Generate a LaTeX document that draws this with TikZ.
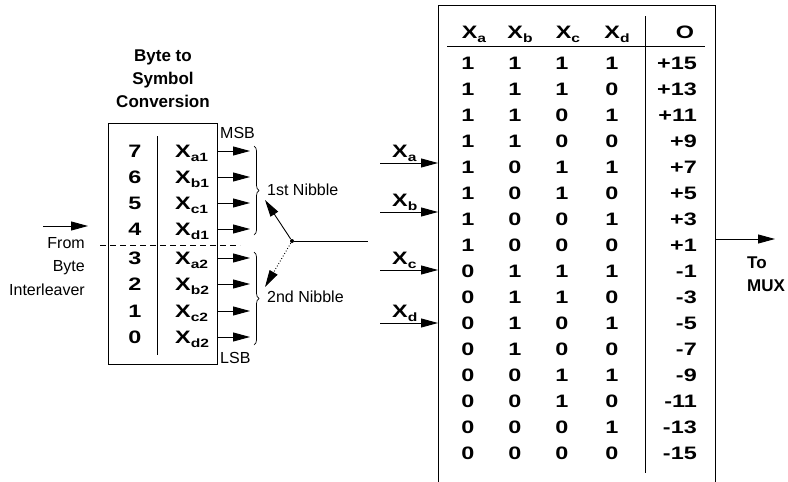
\documentclass[tikz,border=0pt]{standalone}
\usepackage{fontspec}
\setmainfont{Liberation Sans}
\newfontfamily\widefont{Liberation Sans Bold}[FakeStretch=1.3]
\usetikzlibrary{arrows.meta,decorations.pathreplacing}

\tikzset{
  sigarrow/.style={-{Triangle[length=17pt,width=9pt]}},
  bitlabel/.style={inner sep=0.75pt,font=\fontsize{18}{18}\widefont\selectfont},
  plainlabel/.style={inner sep=0.75pt,font=\fontsize{16}{23.5}\selectfont},
  boldlabel/.style={inner sep=0.75pt,font=\bfseries\fontsize{17}{23}\selectfont},
}
\newcommand\lowidx[1]{\raisebox{-4.5pt}{\fontsize{12}{12}\selectfont #1}}

\begin{document}
\begin{tikzpicture}[x=1pt,y=1pt,yscale=-1,xscale=1,line width=0.9pt]
    \useasboundingbox (0,0) rectangle (788,482);

    % Text Node
    \node [boldlabel, align=center] (title) at (163,79) {Byte to\\Symbol\\Conversion};

    %Shape: Rectangle
    \node [draw, minimum width=109, minimum height=241, inner sep=0pt] (conv) at (162.5,243.5) {};
    %Straight Lines
    \draw (157,136) -- (157,355) ;
    \draw [dash pattern={on 6pt off 4pt}] (100,245) -- (240,245) ;

    % Bits of the byte
    \foreach \bit/\sub/\yy in {7/a1/151, 6/b1/177, 5/c1/203, 4/d1/229, 3/a2/258, 2/b2/284, 1/c2/311, 0/d2/337}{
      \node [bitlabel, anchor=base] (d\bit) at (135,\yy+6) {\bit};
      \node [bitlabel, anchor=base west] (x\bit) at (174,\yy+6) {X\lowidx{\sub}};
      \coordinate (t\bit) at (250,\yy);
      \draw [sigarrow] (conv.east |- t\bit) -- (t\bit) ;
    }

    % Text Node
    \node [plainlabel, anchor=west] (msb) at (219,133) {MSB};
    \node [plainlabel, anchor=west] (lsb) at (219,358) {LSB};

    %Shape: Brace
    \draw [line width=0.7pt, decorate, decoration={brace, amplitude=5pt}] (254,146) -- (254,235) ;
    \draw [line width=0.7pt, decorate, decoration={brace, amplitude=5pt}] (254,252) -- (254,345) ;
    \node [plainlabel, anchor=west] (nib1) at (266,190) {1st Nibble};
    \node [plainlabel, anchor=west] (nib2) at (266,297) {2nd Nibble};

    % Switch
    \node [circle, fill, inner sep=0pt, minimum size=4pt] (pivot) at (292,241) {};
    \coordinate (n1) at (265,200);
    \coordinate (n2) at (265,287);
    \coordinate (pend) at (368,241);
    \draw [sigarrow] (pivot) -- (n1) ;
    \draw [sigarrow, dotted] (pivot) -- (n2) ;
    \draw (pivot) -- (pend) ;

    % Input from the interleaver
    \coordinate (fin0) at (43,226);
    \coordinate (fin1) at (88,226);
    \draw [sigarrow] (fin0) -- (fin1) ;
    \node [plainlabel, anchor=east, align=right] (from) at (86,266.5) {From\\Byte\\Interleaver};

    %Shape: Mapping box
    \coordinate (mapL) at (438,5);
    \coordinate (mapR) at (715,5);
    \draw (438,483) -- (mapL) -- (mapR) -- (715,483) ;
    \draw (645,16) -- (645,473) ;
    \draw (447,46) -- (705,46) ;

    % Header
    \node [bitlabel, anchor=base] (ha) at (474,38) {X\lowidx{a}};
    \node [bitlabel, anchor=base] (hb) at (520,38) {X\lowidx{b}};
    \node [bitlabel, anchor=base] (hc) at (568,38) {X\lowidx{c}};
    \node [bitlabel, anchor=base] (hd) at (617,38) {X\lowidx{d}};
    \node [bitlabel, anchor=base] (ho) at (685,38) {O};

    % Table rows
    \foreach \a/\b/\c/\d/\o [count=\i from 0] in {1/1/1/1/+15, 1/1/1/0/+13, 1/1/0/1/+11, 1/1/0/0/+9,
        1/0/1/1/+7, 1/0/1/0/+5, 1/0/0/1/+3, 1/0/0/0/+1, 0/1/1/1/-1, 0/1/1/0/-3, 0/1/0/1/-5,
        0/1/0/0/-7, 0/0/1/1/-9, 0/0/1/0/-11, 0/0/0/1/-13, 0/0/0/0/-15}{
      \node [bitlabel, anchor=base] (ra\i) at (468,69+26*\i) {\a};
      \node [bitlabel, anchor=base] (rb\i) at (515,69+26*\i) {\b};
      \node [bitlabel, anchor=base] (rc\i) at (562,69+26*\i) {\c};
      \node [bitlabel, anchor=base] (rd\i) at (612,69+26*\i) {\d};
      \node [bitlabel, anchor=base east] (ro\i) at (698,69+26*\i) {\o};
    }

    % Inputs X_a .. X_d
    \foreach \s/\yy in {a/163, b/212, c/270, d/323}{
      \coordinate (in\s) at (380,\yy);
      \node [bitlabel, anchor=base west] (lab\s) at (391,\yy-6) {X\lowidx{\s}};
      \draw [sigarrow] (in\s) -- (in\s -| mapL) ;
    }

    % Output
    \coordinate (oend) at (775,239);
    \draw [sigarrow] (oend -| mapR) -- (oend) ;
    \node [boldlabel, anchor=west, align=left] (mux) at (746,274.5) {To\\MUX};

\end{tikzpicture}
\end{document}
